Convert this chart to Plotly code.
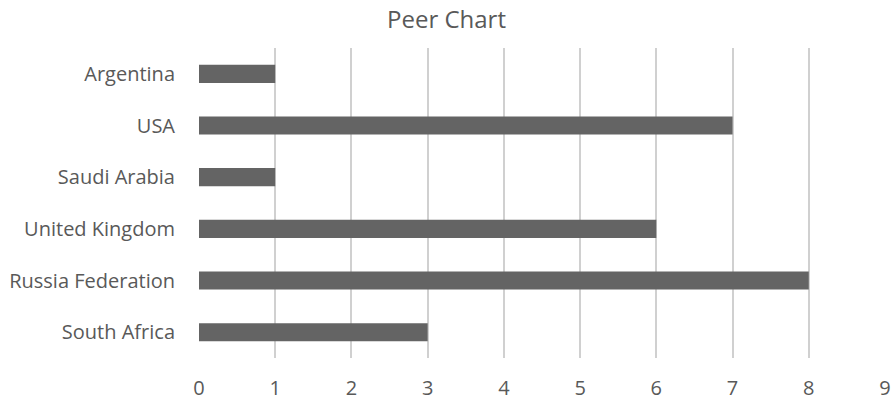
import plotly.graph_objects as go

# Peer chart: count per country
countries = ["Argentina", "USA", "Saudi Arabia", "United Kingdom", "Russia Federation", "South Africa"]
counts = [1, 7, 1, 6, 8, 3]
x_ticks = [0, 1, 2, 3, 4, 5, 6, 7, 8, 9]

TEXT = "#595959"
FONT = "Open Sans"

fig = go.Figure(
    go.Bar(
        x=counts,
        y=countries,
        orientation="h",
        marker=dict(color="#646464", line=dict(width=0)),
        hoverinfo="x+y",
    )
)

fig.update_layout(
    width=893,
    height=400,
    margin=dict(l=199, r=8, t=48, b=42),
    paper_bgcolor="white",
    plot_bgcolor="white",
    bargap=0.65,
    showlegend=False,
    title=dict(
        text="Peer Chart",
        x=0.5,
        xref="container",
        xanchor="center",
        y=1 - 20 / 400,
        yref="container",
        yanchor="middle",
        font=dict(family=FONT, size=24, color=TEXT),
    ),
    font=dict(family=FONT, color=TEXT),
)

fig.update_xaxes(
    range=[0, 9],
    tickvals=x_ticks,
    ticktext=[str(v) for v in x_ticks],
    showgrid=True,
    gridcolor="#d0d0d0",
    gridwidth=1.5,
    zeroline=False,
    showline=False,
    ticks="",
    tickfont=dict(family=FONT, size=20, color=TEXT),
    ticklabelstandoff=16,
    automargin=False,
)

fig.update_yaxes(
    categoryorder="array",
    categoryarray=countries,
    autorange="reversed",
    showgrid=False,
    zeroline=False,
    showline=False,
    ticks="",
    tickfont=dict(family=FONT, size=20, color=TEXT),
    ticklabelstandoff=23,
    automargin=False,
)

fig.write_html("out.html")
